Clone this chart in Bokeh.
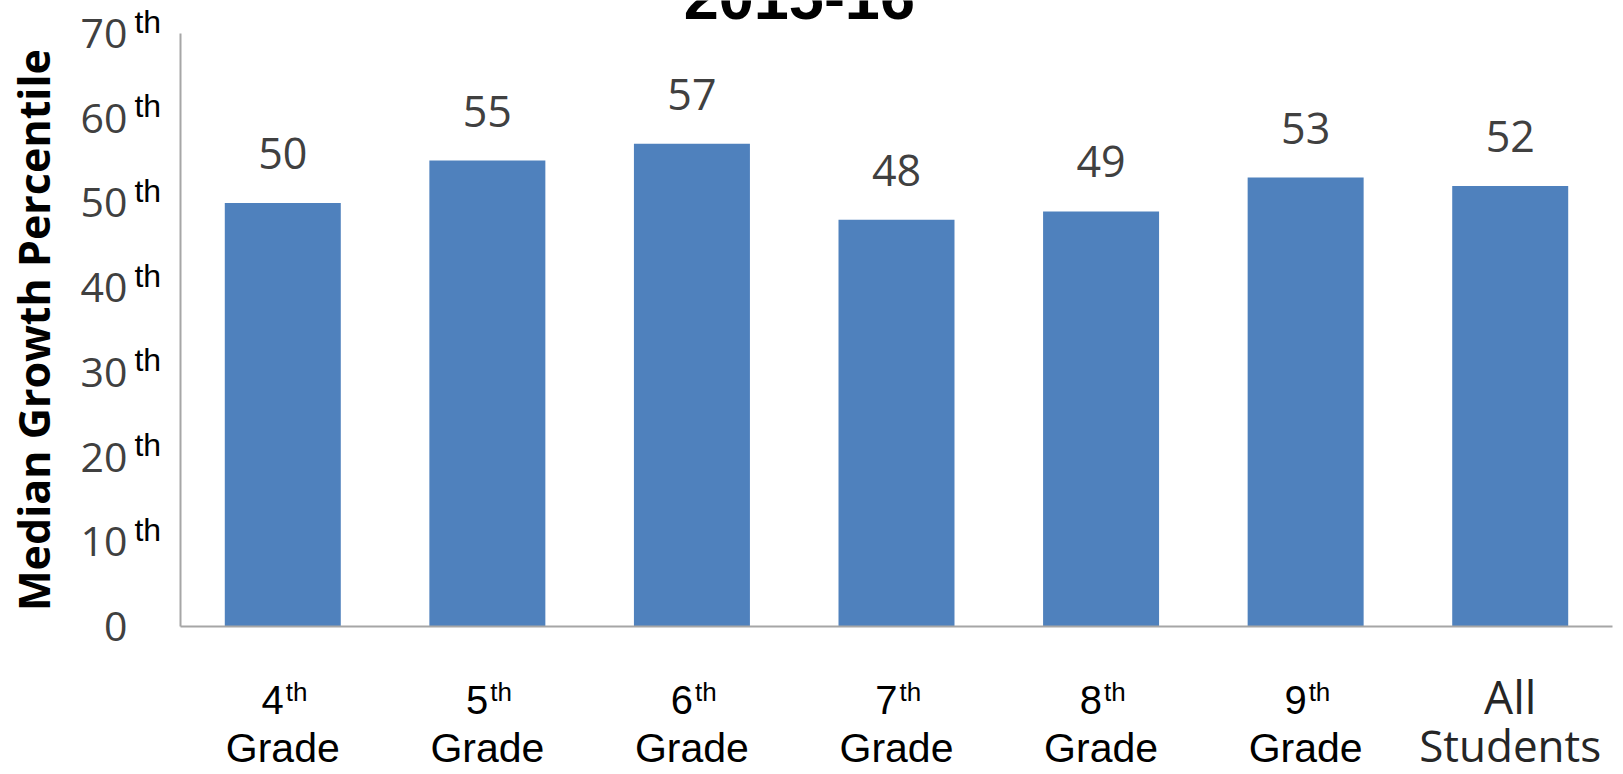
from bokeh.plotting import figure
from bokeh.models import ColumnDataSource, LabelSet, Label, FixedTicker, Range1d
from bokeh.core.properties import value
from bokeh.embed import file_html
from bokeh.resources import INLINE

# ---- data ----
categories = ["4th Grade", "5th Grade", "6th Grade", "7th Grade", "8th Grade", "9th Grade", "All Students"]
values = [50, 55, 57, 48, 49, 53, 52]
label_top = ["4", "5", "6", "7", "8", "9", ""]
label_sup = ["th", "th", "th", "th", "th", "th", ""]
label_bottom = ["Grade", "Grade", "Grade", "Grade", "Grade", "Grade", ""]
all_top = ["All"]
all_bottom = ["Students"]
y_ticks = [0, 10, 20, 30, 40, 50, 60, 70]
y_tick_sup = ["", "th", "th", "th", "th", "th", "th", "th"]
title_text = "2015-16"
y_title = "Median Growth Percentile"

BAR = "#4f81bd"
GRAY = "#404040"
AXIS = "#a6a6a6"

W, H = 1623, 774
# plotting area inside the canvas (pixels)
left, right, top, bottom = 180, 1612, 33, 626
n = len(categories)
ppx = (right - left) / n
ppy = (bottom - top) / y_ticks[-1]
x_range = Range1d(-left / ppx, n + (W - right) / ppx)
y_range = Range1d(-(H - bottom) / ppy, y_ticks[-1] + top / ppy)

p = figure(width=W, height=H, x_range=x_range, y_range=y_range,
           output_backend="svg", toolbar_location=None,
           min_border_left=0, min_border_right=0, min_border_top=0, min_border_bottom=0)
p.outline_line_color = None
p.grid.grid_line_color = None
p.background_fill_color = "white"
p.border_fill_color = "white"

xs = [i + 0.5 for i in range(n)]
src = ColumnDataSource(dict(x=xs, cat=categories, val=values, txt=[str(v) for v in values]))
p.vbar(x="x", top="val", bottom=0, width=0.567, source=src, fill_color=BAR, line_color=None)

# data labels
p.add_layout(LabelSet(x="x", y="val", text="txt", source=src, y_offset=34,
                      text_align="center", text_baseline="alphabetic",
                      text_font=value("Open Sans"), text_font_size="43px", text_color=GRAY))

# y axis (drawn at x = 0, the left edge of the bars' area)
p.yaxis.fixed_location = 0
p.yaxis.bounds = (y_ticks[0], y_ticks[-1])
p.yaxis.ticker = FixedTicker(ticks=y_ticks)
p.yaxis.major_tick_line_color = None
p.yaxis.minor_tick_line_color = None
p.yaxis.axis_line_color = AXIS
p.yaxis.axis_line_width = 2
p.yaxis.major_label_text_font = "Open Sans"
p.yaxis.major_label_text_font_size = "41px"
p.yaxis.major_label_text_color = GRAY
p.yaxis.major_label_standoff = 47
p.yaxis.axis_label = y_title
p.yaxis.axis_label_text_font = "Open Sans"
p.yaxis.axis_label_text_font_style = "bold"
p.yaxis.axis_label_text_font_size = "43px"
p.yaxis.axis_label_text_color = "black"
p.yaxis.axis_label_standoff = 15

# superscript "th" on y ticks
ysrc = ColumnDataSource(dict(x=[-0.225] * len(y_ticks), y=y_ticks, t=y_tick_sup))
p.add_layout(LabelSet(x="x", y="y", text="t", source=ysrc, y_offset=1,
                      text_align="left", text_baseline="alphabetic",
                      text_font=value("Liberation Sans"), text_font_size="32px", text_color="black"))

# x axis line (drawn at y = 0)
p.xaxis.fixed_location = 0
p.xaxis.bounds = (0, n)
p.xaxis.ticker = FixedTicker(ticks=[])
p.xaxis.major_tick_line_color = None
p.xaxis.minor_tick_line_color = None
p.xaxis.axis_line_color = AXIS
p.xaxis.axis_line_width = 2

xsrc = ColumnDataSource(dict(x=xs, top=label_top, sup=label_sup, bot=label_bottom, y=[0] * n))
p.add_layout(LabelSet(x="x", y="y", text="top", source=xsrc, x_offset=1, y_offset=-87,
                      text_align="right", text_baseline="alphabetic",
                      text_font=value("Liberation Sans"), text_font_size="40px", text_color="black"))
p.add_layout(LabelSet(x="x", y="y", text="sup", source=xsrc, x_offset=3, y_offset=-74,
                      text_align="left", text_baseline="alphabetic",
                      text_font=value("Liberation Sans"), text_font_size="26px", text_color="black"))
p.add_layout(LabelSet(x="x", y="y", text="bot", source=xsrc, y_offset=-135,
                      text_align="center", text_baseline="alphabetic",
                      text_font=value("Liberation Sans"), text_font_size="41px", text_color="black"))
# "All Students" in the other face
asrc = ColumnDataSource(dict(x=xs[-1:], y=[0], top=all_top, bot=all_bottom))
p.add_layout(LabelSet(x="x", y="y", text="top", source=asrc, y_offset=-87,
                      text_align="center", text_baseline="alphabetic",
                      text_font=value("Open Sans"), text_font_size="46px", text_color="#262626"))
p.add_layout(LabelSet(x="x", y="y", text="bot", source=asrc, y_offset=-135,
                      text_align="center", text_baseline="alphabetic",
                      text_font=value("Open Sans"), text_font_size="44px", text_color="#262626"))

# title (cut off at the top of the page, as in the original)
p.add_layout(Label(x=3.025, y=y_ticks[-1], y_offset=36, text=title_text,
                   text_align="center", text_baseline="alphabetic",
                   text_font="Liberation Sans", text_font_style="bold",
                   text_font_size="63px", text_color="black"))

open("out.html", "w").write(file_html(p, INLINE))
